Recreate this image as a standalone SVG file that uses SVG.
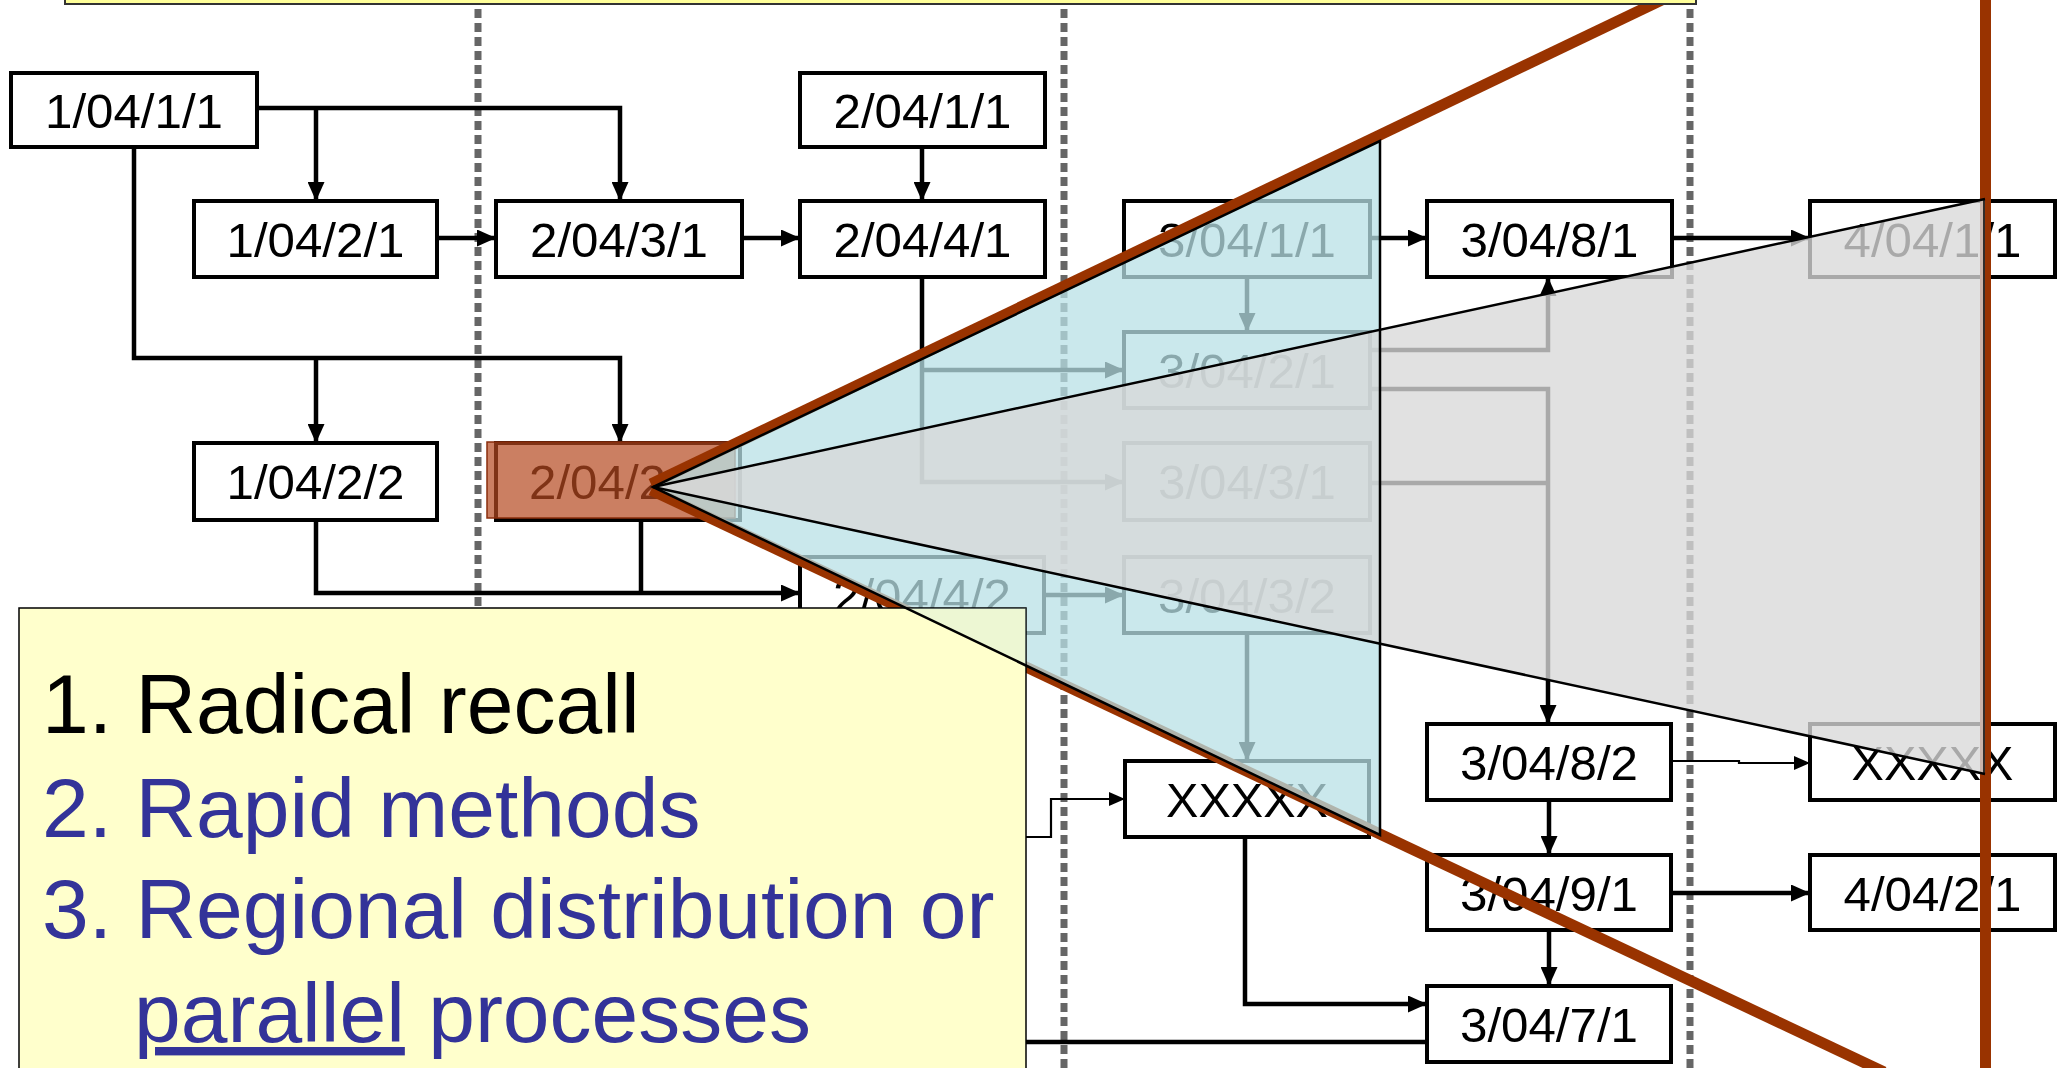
<svg xmlns="http://www.w3.org/2000/svg" width="2063" height="1068" viewBox="0 0 2063 1068">
<style>
.box{fill:#fff;stroke:#000;stroke-width:4}
.lbl{font-family:"Liberation Sans",Arial,sans-serif;font-size:48px;text-anchor:middle;fill:#000}
.c{fill:none;stroke:#000;stroke-width:4.5}
.thin{stroke-width:2.2}
.sep{stroke:#666;stroke-width:7;stroke-dasharray:9 5}
.big{font-family:"Liberation Sans",Arial,sans-serif;font-size:84px;fill:#333399}
.zl{stroke:#993300;stroke-width:11;fill:none}
.edge{fill:none;stroke:#000;stroke-width:2.5;stroke-linejoin:miter}
</style>
<defs>
<marker id="ah" markerUnits="userSpaceOnUse" markerWidth="19" markerHeight="17" refX="19" refY="8.5" orient="auto"><path d="M0,0 L19,8.5 L0,17 z" fill="#000"/></marker>
<marker id="ahs" markerUnits="userSpaceOnUse" markerWidth="16" markerHeight="14" refX="16" refY="7" orient="auto"><path d="M0,0 L16,7 L0,14 z" fill="#000"/></marker>
<clipPath id="legclip"><rect x="19" y="608" width="1007" height="470"/></clipPath>
</defs>
<rect width="2063" height="1068" fill="#fff"/>

<g id="separators">
<line class="sep" x1="478" y1="9" x2="478" y2="1068"/>
<line class="sep" x1="1064" y1="9" x2="1064" y2="1068"/>
<line class="sep" x1="1690" y1="9" x2="1690" y2="1068"/>
</g>

<g id="connectors">
<path class="c" d="M257,108 H620 V201" marker-end="url(#ah)"/>
<path class="c" d="M316,108 V201" marker-end="url(#ah)"/>
<path class="c" d="M437,238 H496" marker-end="url(#ah)"/>
<path class="c" d="M742,238 H800" marker-end="url(#ah)"/>
<path class="c" d="M922,147 V201" marker-end="url(#ah)"/>
<path class="c" d="M134,147 V358 H620 V443" marker-end="url(#ah)"/>
<path class="c" d="M316,358 V443" marker-end="url(#ah)"/>
<path class="c" d="M1370,238 H1427" marker-end="url(#ah)"/>
<path class="c" d="M1672,238 H1810" marker-end="url(#ah)"/>
<path class="c" d="M1247,277 V332" marker-end="url(#ah)"/>
<path class="c" d="M922,277 V482 H1124" marker-end="url(#ah)"/>
<path class="c" d="M922,370 H1124" marker-end="url(#ah)"/>
<path class="c" d="M1370,350 H1548 V277" marker-end="url(#ah)"/>
<path class="c" d="M1370,389 H1548 V724" marker-end="url(#ah)"/>
<path class="c" d="M1370,483 H1548"/>
<path class="c" d="M316,521 V593 H800" marker-end="url(#ah)"/>
<path class="c" d="M641,519 V593"/>
<path class="c" d="M1044,595 H1124" marker-end="url(#ah)"/>
<path class="c" d="M1247,633 V761" marker-end="url(#ah)"/>
<path class="c thin" d="M1026,837 H1051 V799 H1125" marker-end="url(#ahs)"/>
<path class="c" d="M1245,837 V1004 H1427" marker-end="url(#ah)"/>
<path class="c thin" d="M1671,761 H1739 V763 H1810" marker-end="url(#ahs)"/>
<path class="c" d="M1549,800 V855" marker-end="url(#ah)"/>
<path class="c" d="M1671,893 H1810" marker-end="url(#ah)"/>
<path class="c" d="M1549,930 V986" marker-end="url(#ah)"/>
<path class="c" d="M1026,1042 H1427"/>
</g>

<g id="n-1-04-1-1"><rect class="box" x="11" y="73" width="246" height="74"/><text class="lbl" x="134" y="128" textLength="178" lengthAdjust="spacingAndGlyphs">1/04/1/1</text></g>
<g id="n-2-04-1-1"><rect class="box" x="800" y="73" width="245" height="74"/><text class="lbl" x="922.5" y="128" textLength="178" lengthAdjust="spacingAndGlyphs">2/04/1/1</text></g>
<g id="n-1-04-2-1"><rect class="box" x="194" y="201" width="243" height="76"/><text class="lbl" x="315.5" y="257" textLength="178" lengthAdjust="spacingAndGlyphs">1/04/2/1</text></g>
<g id="n-2-04-3-1"><rect class="box" x="496" y="201" width="246" height="76"/><text class="lbl" x="619" y="257" textLength="178" lengthAdjust="spacingAndGlyphs">2/04/3/1</text></g>
<g id="n-2-04-4-1"><rect class="box" x="800" y="201" width="245" height="76"/><text class="lbl" x="922.5" y="257" textLength="178" lengthAdjust="spacingAndGlyphs">2/04/4/1</text></g>
<g id="n-3-04-1-1"><rect class="box" x="1124" y="201" width="246" height="76"/><text class="lbl" x="1247" y="257" textLength="178" lengthAdjust="spacingAndGlyphs">3/04/1/1</text></g>
<g id="n-3-04-8-1"><rect class="box" x="1427" y="201" width="245" height="76"/><text class="lbl" x="1549.5" y="257" textLength="178" lengthAdjust="spacingAndGlyphs">3/04/8/1</text></g>
<g id="n-4-04-1-1"><rect class="box" x="1810" y="201" width="245" height="76"/><text class="lbl" x="1932.5" y="257" textLength="178" lengthAdjust="spacingAndGlyphs">4/04/1/1</text></g>
<g id="n-3-04-2-1"><rect class="box" x="1124" y="332" width="246" height="76"/><text class="lbl" x="1247" y="388" textLength="178" lengthAdjust="spacingAndGlyphs">3/04/2/1</text></g>
<g id="n-1-04-2-2"><rect class="box" x="194" y="443" width="243" height="77"/><text class="lbl" x="315.5" y="499" textLength="178" lengthAdjust="spacingAndGlyphs">1/04/2/2</text></g>
<g id="n-2-04-2"><rect class="box" x="496" y="443" width="244" height="77"/><text class="lbl" x="529" y="499" style="text-anchor:start" textLength="137" lengthAdjust="spacingAndGlyphs">2/04/2</text><rect x="487" y="442" width="248" height="76" fill="#b5491f" fill-opacity="0.7" stroke="#8a2e0c" stroke-width="1.5"/></g>
<g id="n-3-04-3-1"><rect class="box" x="1124" y="443" width="246" height="77"/><text class="lbl" x="1247" y="499" textLength="178" lengthAdjust="spacingAndGlyphs">3/04/3/1</text></g>
<g id="n-2-04-4-2"><rect class="box" x="800" y="557" width="244" height="76"/><text class="lbl" x="922" y="613" textLength="178" lengthAdjust="spacingAndGlyphs">2/04/4/2</text></g>
<g id="n-3-04-3-2"><rect class="box" x="1124" y="557" width="246" height="76"/><text class="lbl" x="1247" y="613" textLength="178" lengthAdjust="spacingAndGlyphs">3/04/3/2</text></g>
<g id="n-3-04-8-2"><rect class="box" x="1427" y="724" width="244" height="76"/><text class="lbl" x="1549" y="780" textLength="178" lengthAdjust="spacingAndGlyphs">3/04/8/2</text></g>
<g id="n-xxxxx-right"><rect class="box" x="1810" y="724" width="245" height="76"/><text class="lbl" x="1932.5" y="780" textLength="162" lengthAdjust="spacingAndGlyphs">XXXXX</text></g>
<g id="n-xxxxx-mid"><rect class="box" x="1125" y="761" width="244" height="76"/><text class="lbl" x="1247" y="817" textLength="162" lengthAdjust="spacingAndGlyphs">XXXXX</text></g>
<g id="n-3-04-9-1"><rect class="box" x="1427" y="855" width="244" height="75"/><text class="lbl" x="1549" y="911" textLength="178" lengthAdjust="spacingAndGlyphs">3/04/9/1</text></g>
<g id="n-4-04-2-1"><rect class="box" x="1810" y="855" width="245" height="75"/><text class="lbl" x="1932.5" y="911" textLength="178" lengthAdjust="spacingAndGlyphs">4/04/2/1</text></g>
<g id="n-3-04-7-1"><rect class="box" x="1427" y="986" width="244" height="76"/><text class="lbl" x="1549" y="1042" textLength="178" lengthAdjust="spacingAndGlyphs">3/04/7/1</text></g>

<g id="zoom-frame">
<line class="zl" x1="651" y1="484" x2="1670" y2="-4"/>
<line class="zl" x1="651" y1="490" x2="1884" y2="1072"/>
<line class="zl" x1="1985.5" y1="0" x2="1985.5" y2="1068"/>
</g>

<g id="cone-outer"><polygon points="653,487 1380,141 1380,835" fill="#b8e0e6" fill-opacity="0.75"/></g>
<g id="cone-inner"><polygon points="653,487 1985,199 1985,774" fill="#d9d9d9" fill-opacity="0.78"/></g>

<g id="note-top"><rect x="65" y="-50" width="1631" height="54" fill="#ffff99" stroke="#333" stroke-width="2"/></g>

<g id="note">
<rect x="19" y="608" width="1007" height="480" fill="#ffffcc" stroke="#000" stroke-width="1.5"/>
<polygon points="653,487 1380,141 1380,835" fill="#b8e0e6" fill-opacity="0.25" clip-path="url(#legclip)"/>
<text class="big" x="42" y="733" style="fill:#000">1. Radical recall</text>
<text class="big" x="42" y="837">2. Rapid methods</text>
<text class="big" x="42" y="938">3. Regional distribution or</text>
<text class="big" x="134" y="1042"><tspan text-decoration="underline">parallel</tspan> processes</text>
</g>

<g id="cone-edges">
<path class="edge" d="M1380,141 L653,487 L1380,835 Z"/>
<path class="edge" d="M1985,199 L653,487 L1985,774"/>
<line x1="1984" y1="199" x2="1984" y2="774" stroke="#000" stroke-width="1.5"/>
</g>
</svg>
